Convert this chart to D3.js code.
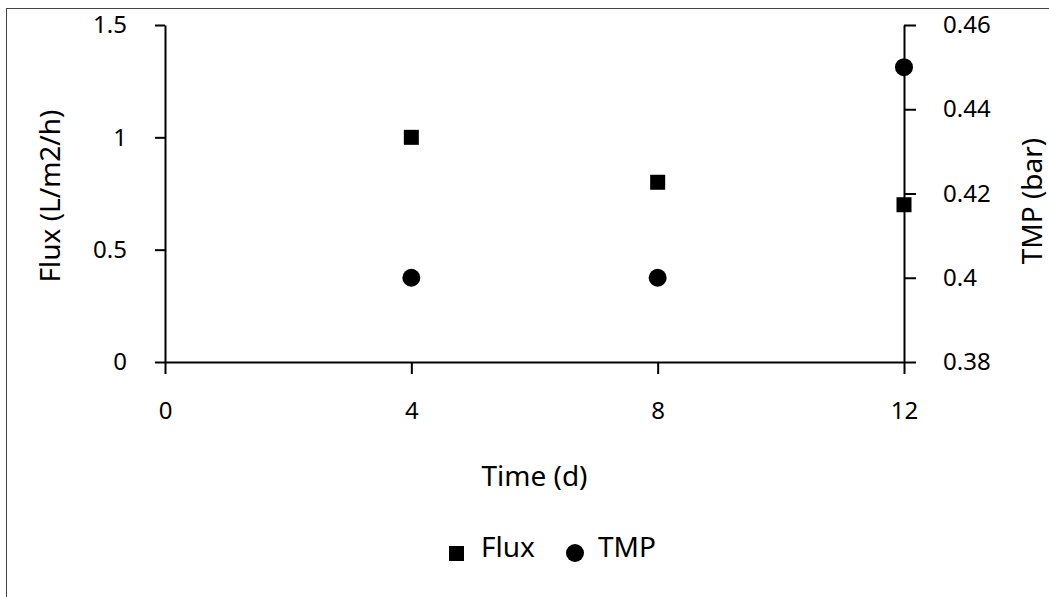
<!DOCTYPE html>
<html>
<head>
<meta charset="utf-8">
<script src="https://cdn.jsdelivr.net/npm/d3@7"></script>
<style>
  body { margin: 0; background: #fff; }
  text { font-family: "Noto Sans", "Open Sans", sans-serif; fill: #000; }
</style>
</head>
<body>
<svg id="chart" width="1049" height="597"></svg>
<script>
var days = [4, 8, 12]
var flux = [1, 0.8, 0.7]
var tmp = [0.4, 0.4, 0.45]
var xTicks = [0, 4, 8, 12]
var fluxTicks = [0, 0.5, 1, 1.5]
var tmpTicks = [0.38, 0.4, 0.42, 0.44, 0.46]

var svg = d3.select('#chart')
var tick_size = 24
var title_size = 28

// outer frame (right and bottom edges run off the picture)
svg.append('rect')
    .attr('x', 6.5).attr('y', 8.5)
    .attr('width', 1100).attr('height', 700)
    .attr('fill', 'none').attr('stroke', '#444').attr('stroke-width', 1)

var x = d3.scaleLinear().domain([0, 12]).range([165, 904])
var yL = d3.scaleLinear().domain([0, 1.5]).range([362, 25])
var yR = d3.scaleLinear().domain([0.38, 0.46]).range([362, 25])

function style_axis(g) {
    g.select('.domain').attr('stroke', '#000').attr('stroke-width', 2)
    g.selectAll('.tick line').attr('stroke', '#000').attr('stroke-width', 2)
    g.selectAll('.tick text').style('font-size', tick_size + 'px').style('font-family', '"Noto Sans", sans-serif').attr('fill', '#000')
}

svg.append('g')
    .attr('transform', 'translate(0,' + yL(0) + ')')
    .call(d3.axisBottom(x).tickValues(xTicks).tickSize(12).tickSizeOuter(0).tickPadding(28).tickFormat(d3.format('d')))
    .call(style_axis)

svg.append('g')
    .attr('transform', 'translate(' + x(0) + ',0)')
    .call(d3.axisLeft(yL).tickValues(fluxTicks).tickSize(10).tickSizeOuter(0).tickPadding(28).tickFormat(function(d) { return d3.format('')(d) }))
    .call(style_axis)

svg.append('g')
    .attr('transform', 'translate(' + x(12) + ',0)')
    .call(d3.axisRight(yR).tickValues(tmpTicks).tickSize(12).tickSizeOuter(0).tickPadding(27).tickFormat(function(d) { return d3.format('')(+d.toFixed(2)) }))
    .call(style_axis)

// markers
var sq = 15
svg.append('g').selectAll('rect')
    .data(days)
    .enter().append('rect')
        .attr('x', function(d) { return x(d) - sq/2 })
        .attr('y', function(d, i) { return yL(flux[i]) - sq/2 })
        .attr('width', sq).attr('height', sq)
        .attr('fill', '#000')

svg.append('g').selectAll('circle')
    .data(days)
    .enter().append('circle')
        .attr('cx', function(d) { return x(d) })
        .attr('cy', function(d, i) { return yR(tmp[i]) })
        .attr('r', 9)
        .attr('fill', '#000')

// axis titles
svg.append('text')
    .attr('x', (x(0) + x(12)) / 2).attr('y', 486)
    .attr('text-anchor', 'middle').style('font-size', title_size + 'px')
    .text('Time (d)')

svg.append('text')
    .attr('transform', 'translate(60,196) rotate(-90)')
    .attr('text-anchor', 'middle').style('font-size', title_size + 'px')
    .text('Flux (L/m2/h)')

svg.append('text')
    .attr('transform', 'translate(1042,201) rotate(-90)')
    .attr('text-anchor', 'middle').style('font-size', title_size + 'px')
    .text('TMP (bar)')

// legend
var legend = svg.append('g').attr('transform', 'translate(0,557)')
legend.append('rect').attr('x', 449).attr('y', -11).attr('width', 15).attr('height', 15).attr('fill', '#000')
legend.append('text').attr('x', 481).attr('y', 0).style('font-size', title_size + 'px').text('Flux')
legend.append('circle').attr('cx', 575).attr('cy', -4).attr('r', 9).attr('fill', '#000')
legend.append('text').attr('x', 598).attr('y', 0).style('font-size', title_size + 'px').text('TMP')
</script>
</body>
</html>
